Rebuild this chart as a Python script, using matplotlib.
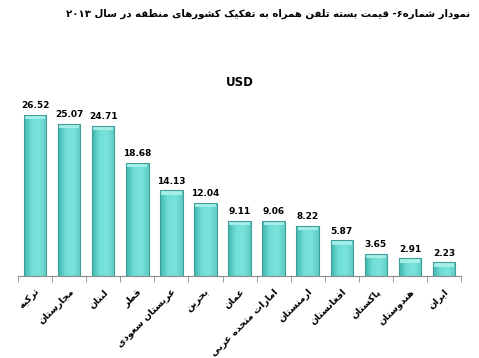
import numpy as np
import matplotlib
matplotlib.use("Agg")
from matplotlib import pyplot as plt
from matplotlib.colors import LinearSegmentedColormap

title = "نمودار شماره۶- قیمت بسته تلفن همراه به تفکیک کشورهای منطقه در سال ۲۰۱۳"
unit = "USD"
countries = ["ترکیه", "مجارستان", "لبنان", "قطر", "عربستان سعودی", "بحرین", "عمان",
             "امارات متحده عربی", "ارمنستان", "افغانستان", "پاکستان", "هندوستان", "ایران"]
prices = [26.52, 25.07, 24.71, 18.68, 14.13, 12.04, 9.11, 9.06, 8.22, 5.87, 3.65, 2.91, 2.23]

# matplotlib has no arabic shaping, so do it by hand with presentation forms
forms = {
    "ا": (0xFE8D, 0xFE8E), "د": (0xFEA9, 0xFEAA), "ر": (0xFEAD, 0xFEAE),
    "ز": (0xFEAF, 0xFEB0), "و": (0xFEED, 0xFEEE),
    "ب": (0xFE8F, 0xFE90, 0xFE91, 0xFE92), "ت": (0xFE95, 0xFE96, 0xFE97, 0xFE98),
    "ج": (0xFE9D, 0xFE9E, 0xFE9F, 0xFEA0), "ح": (0xFEA1, 0xFEA2, 0xFEA3, 0xFEA4),
    "س": (0xFEB1, 0xFEB2, 0xFEB3, 0xFEB4), "ش": (0xFEB5, 0xFEB6, 0xFEB7, 0xFEB8),
    "ط": (0xFEC1, 0xFEC2, 0xFEC3, 0xFEC4), "ع": (0xFEC9, 0xFECA, 0xFECB, 0xFECC),
    "غ": (0xFECD, 0xFECE, 0xFECF, 0xFED0), "ف": (0xFED1, 0xFED2, 0xFED3, 0xFED4),
    "ق": (0xFED5, 0xFED6, 0xFED7, 0xFED8), "ل": (0xFEDD, 0xFEDE, 0xFEDF, 0xFEE0),
    "م": (0xFEE1, 0xFEE2, 0xFEE3, 0xFEE4), "ن": (0xFEE5, 0xFEE6, 0xFEE7, 0xFEE8),
    "ه": (0xFEE9, 0xFEEA, 0xFEEB, 0xFEEC), "پ": (0xFB56, 0xFB57, 0xFB58, 0xFB59),
    "ک": (0xFB8E, 0xFB8F, 0xFB90, 0xFB91), "ی": (0xFBFC, 0xFBFD, 0xFBFE, 0xFBFF),
}


def shape(s):
    out = []
    for i, c in enumerate(s):
        if c not in forms:
            out.append(c)
            continue
        prev = s[i - 1] if i > 0 else ""
        nxt = s[i + 1] if i + 1 < len(s) else ""
        jp = prev in forms and len(forms[prev]) == 4
        jn = len(forms[c]) == 4 and nxt in forms
        f = forms[c]
        if jp and jn:
            out.append(chr(f[3]))
        elif jp:
            out.append(chr(f[1]))
        elif jn:
            out.append(chr(f[2]))
        else:
            out.append(chr(f[0]))
    # reverse for display, keep digit runs in order
    runs, cur = [], ""
    for c in out:
        if c.isdigit():
            cur += c
        else:
            if cur:
                runs.append(cur)
                cur = ""
            runs.append(c)
    if cur:
        runs.append(cur)
    return "".join(runs[::-1])


plt.rcParams['font.family'] = ['DejaVu Sans']

fig = plt.figure(figsize=(4.79, 3.58), dpi=100)
t = fig.text(0.982, 0.962, shape(title), ha='right', va='center', fontsize=8.6, fontweight='bold')
# shrink the title so it spans about 405 px like the original
r = fig.canvas.get_renderer()
w = t.get_window_extent(r).width
t.set_fontsize(8.6 * 405 / w)

ax = fig.add_axes([0.0376, 0.229, 0.925, 0.508])
x = np.arange(len(countries))
bars = ax.bar(x, prices, width=0.66, color='none', edgecolor='#3f9e98', linewidth=0.8, zorder=3)

# bars get a soft side-to-side shading
cmap = LinearSegmentedColormap.from_list('bar', ['#3fb7ae', '#70ded6', '#7ae3db', '#5ccbc3'])
grad = np.linspace(0, 1, 64).reshape(1, -1)
for b in bars:
    x0, bw, h = b.get_x(), b.get_width(), b.get_height()
    im = ax.imshow(grad, cmap=cmap, extent=[x0, x0 + bw, 0, h], aspect='auto', zorder=2)
    im.set_clip_path(b)
    # lighter cap at the top
    ax.bar(x0 + bw / 2, 0.6, width=bw * 0.9, bottom=h - 0.7, color='#a4eee8', linewidth=0, zorder=2.5)

for xi, v in zip(x, prices):
    ax.text(xi, v + 0.8, f"{v:.2f}", ha='center', va='bottom', fontsize=6.5, fontweight='bold')

ax.set_title(unit, fontsize=8.5, fontweight='bold', pad=6)
ax.set_xlim(-0.5, len(countries) - 0.5)
ax.set_ylim(0, 30)
ax.set_yticks([])
for s in ['top', 'right', 'left']:
    ax.spines[s].set_visible(False)
ax.spines['bottom'].set_color('#8c8c8c')
ax.set_xticks(x)
ax.set_xticklabels([shape(c) for c in countries], rotation=45, ha='right', va='top',
                   rotation_mode='anchor', fontsize=6.8, fontweight='bold')
ax.tick_params(axis='x', which='major', length=0, pad=8)
ax.set_xticks(np.arange(-0.5, len(countries)), minor=True)
ax.tick_params(axis='x', which='minor', length=4, color='#8c8c8c')

fig.savefig('out.png', dpi=100)
